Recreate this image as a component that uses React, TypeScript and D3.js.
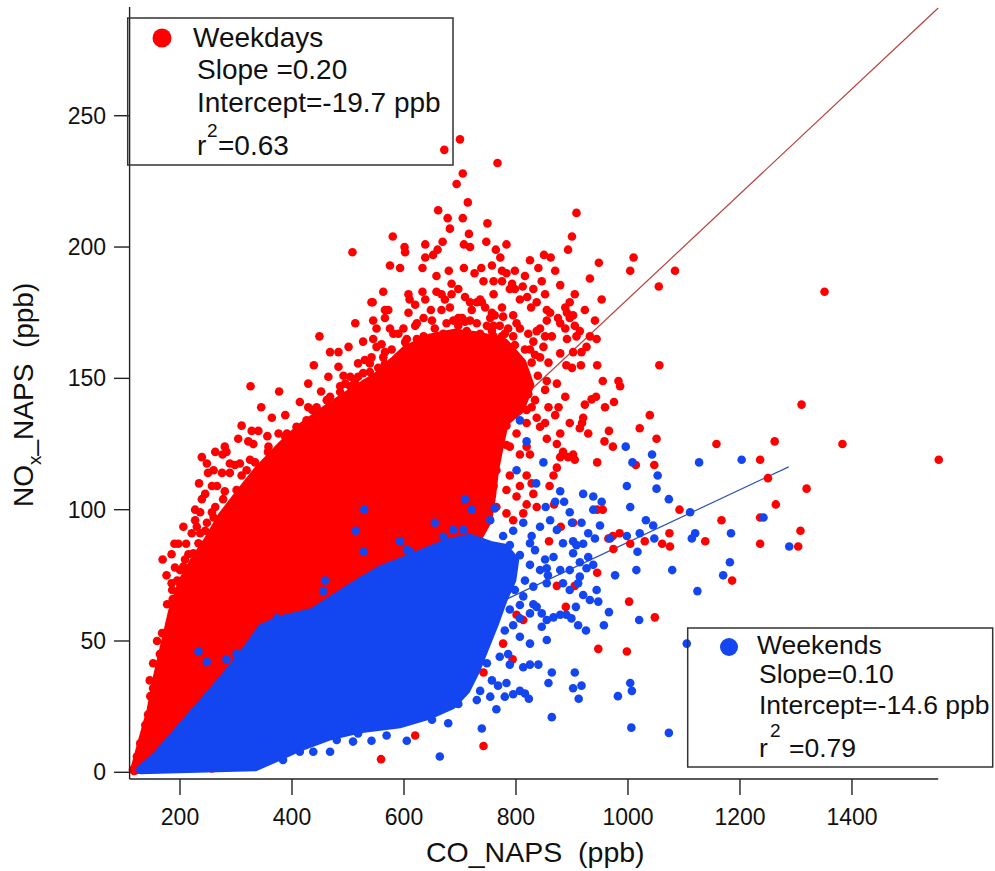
import React from 'react';
import * as d3 from 'd3';

const W = 995;
const H = 871;

const xTicks = [200, 400, 600, 800, 1000, 1200, 1400];
const yTicks = [0, 50, 100, 150, 200, 250];

// Weekday scattered points [CO ppb, NOx ppb]
const weekdayPoints: [number, number][] = [
  [700,241],[672,237],[767,232],[705,228],[694,224],[714,217],[908,213],[661,214],[678,211],[705,211],[749,209],[682,207],[580,204],[716,205],[900,204],[601,200],[602,198],[638,201],[669,202],[660,199],[652,197],[707,201],[718,200],[747,202],[783,201],[764,199],[893,199],[508,198],[638,196],[772,196],[850,197],[862,196],[948,194],[575,193],[593,192],[633,192],[707,192],[726,190],[738,192],[757,193],[775,191],[783,190],[798,191],[840,192],[658,189],[680,191],[932,188],[742,187],[760,187],[812,185],[846,187],[775,187],[685,186],[697,184],[793,186],[789,184],[831,184],[563,183],[544,179],[608,182],[610,180],[633,183],[658,183],[673,180],[736,180],[760,182],[953,180],[820,181],[837,179],[896,179],[888,177],[648,176],[682,177],[718,179],[730,179],[775,177],[795,174],[827,177],[855,176],[861,175],[875,173],[891,175],[902,174],[566,176],[566,173],[513,171],[545,172],[551,169],[449,166],[468,160],[483,160],[501,162],[527,164],[545,165],[581,167],[599,169],[623,171],[635,173],[905,170],[908,166],[932,166],[917,160],[855,172],[807,169],[822,167],[843,169],[879,171],[888,169],
  [575,169],[605,165],[623,165],[635,166],[646,161],[658,166],[670,167],[676,171],[688,172],[697,170],[688,166],[703,166],[712,168],[718,172],[730,171],[736,167],[748,170],[760,166],[771,170],[775,166],[783,162],[795,166],[831,164],[849,162],[864,166],[891,165],[902,160],
  [542,179],[572,176],[608,175],[620,170],[650,172],[667,176],[697,173],[721,176],[739,179],[757,175],[780,167],[757,168],[709,167],[667,165],[643,162],[626,161],[590,167],[578,161],[560,163],[542,158],[554,154],[578,156],[596,152],[530,148],[518,144],[518,155.7],[483,154.4],[465,150.6],[518,150.6],[530,157],
  [326,147],[377,145],[345,139],[310,132],[239,120],[250,114],[234,110],[245,106],[227,100],[236,99],[190,87],[211,87],[169,81],[185,83],[176,75],[209,81],[439,155],[429,148],[452,145],[276,121],[283,122],[298,117],[304,127],[328,130],[340,130],[322,126],[331,125],[364,135],[388,136],[414,141],[429,139],[492,151],[495,148],[501,143],[492,142],[358,124],[376,129],
  [263,122],[280,124],[310,113],[275,114],[257,109],[280,107],[239,104],[263,101],[227,96],[245,92],[221,91],[197,87],[215,83],[191,78],[221,77],[185,72],[206,69],
  [138,18],[143,22],[147,29],[152,32],[164,45],[173,45],[159,50],[168,53],[177,64],[187,66],[195,73],[116,1],[123,3],
  [527,152],[539,155.7],[563,158],[551,162],[444,139],[468,143],[486,147],[504,150.6],[504,147],[468,139],[356,128],[391,129],[408,131.6],[426,134],[444,133],[462,134],[289,117.6],[307,117.6],[325,119],[248,117.6],[260,115],[289,114],[319,115],[266,109],[277,104],[301,107.5],[313,105],[248,95],[260,97],[271,92],[254,90],[224,83.4],[242,85],[200,72],[212,67],[182,56.7],[152,41.5],[146,35],[129,11],[123,6],[206,93.5],[230,93.5],[233,87.2],[206,78.3],
  [704,173],[745,177],[754,173],[638,180],[620,178],[807,180],[798,184],[816,189],[825,195],[870,191],[879,185.5],[905,182],[852,182],[923,176],[941,172],
  [566,160],[602,163.8],[655,169],[709,171.6],[798,162.7],[816,161],[834,159],[839,151],[852,145.6],[834,141.7],
  [186,69.4],[200,77],[236,91],[257,99],[334,118],[357,122],[388,127.7],[436,138],[462,141.7],[486,144.8],[512,148.6],[539,152.4],[566,155.5],
  [559,5],[620,14],[742,10],[742,38],[794,43],[777,49],[889,63],[947,47],[813,58],[801,60],[739,47],[694,41],[367,8],[257,1.5],[569,24],[1002,65],[1048,59],[998,46],
  [1084,191],[1055,185],[1351,183],[1056,155],[1310,140],[1039,136],[1021,131],[1051,127],[1158,125],[1262,126],[1383,125],[1555,119],[1236,119],[1047,117],[1250,112],[1319,108],[1264,102],[1092,100],[1167,96],[1236,97],[1308,92],[1074,91],[1030,88],[1061,87],[1075,86],[1138,88],[1236,87],[1304,86],
  [1010,196],[1004,191],[916,155],[900,154],[945,155],[955,149],[983,149],[986,147],[923,140],[935,142],[943,143],[959,139],[975,141],[918,133],[896,133],[929,129],[966,130],[958,126],[973,124],[945,118],[1014,117],[1186,73],[973,90],[985,91],[1004,87],[974,85],[945,76],[873,71],[905,71],[945,100],[955,100],[868,102],[860,109],[831,106],[828,110],[873,116],[867,113],[893,120],[884,122],[902,121],[905,119],[879,120],[879,129],[855,127],[873,125],
  [914,131],[902,95],[880,93.5],[965,89],[859,88],
  [765,132],[783,132],[801,129],[819,124],[825,121],[807,121],[789,124],[771,126.5],[754,120],[736,118],[765,115],[789,113],[807,109],[819,113],[819,102],[801,105],[783,107.5],[760,109],[742,111],[724,109],[736,102],[765,101],[748,96],[724,100],[712,105],[783,98.6],[813,98.6],[795,96],[837,101],
  [667,182],[685,182],[709,181],[896,173],[852,166],[914,168],[879,159.5],[858,156],[890,155],[825,161],[843,158],[828,156],[855,149],[873,148],[888,143],[876,139],[858,139],[852,133],[870,136],[822,144],[828,139],[837,135],[843,131.6],[920,135],[783,124.6],[819,133],[819,138],[801,171],[786,169],[760,170],[762,174],[777,173.5],[837,168],[926,162],[944,165],
];

// Weekend scattered points [CO ppb, NOx ppb]
const weekendPoints: [number, number][] = [
  [1043,121],[1127,118],[1203,119],[1053,113],[1051,108],[1073,104],[1111,99],[1032,96],[1045,94],[1242,97],[1120,91],[1114,89],[1047,89],[1184,91],[1288,86],[1182,80],[1079,77],[890,60],[899,58.6],[911,56],[925,54],[907,63],[932,65.6],[947,65],[966,61],[957,56],[1020,58],[1105,49],[905,38],[902,32],[917,33],[912,28],[982,29],[1004,34],[1007,31],[1006,17],[1073,15],
  [996,124],[1008,118],[998,109],[920,106],[938,105],[953,103],[886,103],[870,103],[853,101],[879,107],[836,110],[1004,101],[1021,91],[998,90],[1017,84],[1015,77],[977,75],[1170,75],[1124,69],[929,91],[941,89],[920,87],[950,94],[917,95],[900,95],[896,99],[938,100],[968,89],[938,79],[914,74.5],[911,72],[944,69.4],[896,77],[884,72],[896,69.4],[920,67.5],[867,82],[855,77.7],[908,86.5],[902,83.4],[914,80],[926,77.7],[837,63],[867,59],
  [902,88],[929,82],[879,60],[855,58],[846,55.4],[831,64],[789,86.5],[807,82.7],[825,79],[816,73],[798,69.4],[843,77],[834,84.6],[789,77],[852,81],[857,75],[849,118],[801,115],[819,126],[861,96],[843,93.5],[828,90],[813,95],[795,92],[777,90],[762,100.5],[754,96],[709,104],[655,95],[593,88],[611,84],
  [664,6],[739,16.7],[864,21],[765,24],[679,18.7],[605,12],[542,12],[569,14],[825,41],[840,41],[864,38],[858,34],[816,30],[823,28],[795,29.7],[780,28.8],[754,28.8],[730,27.5],[697,26],[768,33],[757,35],[736,31],[748,41.5],[771,44],[786,45],[789,41],[807,51.6],[795,56],[807,58.6],[846,60.5],[807,63.7],[825,60.5],[789,62],[780,54],
  [468,7.8],[518,14.8],[509,11.7],[343,3.4],[307,2.1],[384,4.7],[414,7.8],[438,7.8],[480,12.3],[650,20],[233,46],[248,42],[283,43],[301,45],[322,47],[529,100],[514,92],[528,84],[721,100],[807,134],[459,73],[456,69],[524,73],[548,70.7],[572,77],[596,74.5],[373,58.6],
  [605,84.6],[623,80.8],[670,89.7],[688,92.3],[706,92.3],[873,92.3],[884,87.2],[742,87.2],[771,83.4],[825,87.2],[879,77],[777,68],[813,67],[831,70.7],[855,72],[825,49],[855,50.4],[813,40],[783,34],[807,31],
];

// Outline of the saturated (fully overplotted) weekday cloud [CO, NOx]
const weekdayCore: [number, number][] = [
  [118,0.5],[132,11.5],[148,23.7],[159,36],[173,49],[186,61],[204,72.5],[225,80.5],[250,88.4],[275,97.6],[304,105.6],[339,115],[379,124],[414,131],[459,138],[504,144.4],[557,151.6],[602,160.8],[646,165.4],[691,167.3],[736,166.1],[780,163.5],[811,156],[825,147.5],[807,138],[780,133.4],[771,124.6],[762,115],[757,105.6],[750,96],[732,89.2],[700,86.5],[664,84.6],[593,77.8],[521,65.6],[414,50.4],[307,31.3],[218,16.1],[146,2.8],
];

// Outline of the saturated weekend cloud [CO, NOx]
const weekendCore: [number, number][] = [
  [129,0.9],[334,2],[379,6.2],[414,9.6],[468,13.8],[521,16.5],[593,18.4],[646,21.8],[686,25.6],[711,31.3],[729,39],[743,46.6],[761,56.1],[777,65.6],[793,73.2],[798,80.8],[780,85.4],[754,86.5],[718,89.2],[677,87.3],[616,82],[557,77],[498,69.4],[437,61],[379,58],[346,54.9],[325,48.5],[293,39.7],[257,30.6],[221,21.8],[186,13.1],[155,5.8],
];

const weekdayFit: [number, number][] = [[118, 3.9], [1554, 291]];
const weekendFit: [number, number][] = [[140, 1.6], [1287, 116.3]];

const weekdayLegend = ['Weekdays', 'Slope =0.20', 'Intercept=-19.7 ppb', '=0.63'];
const weekendLegend = ['Weekends', 'Slope=0.10', 'Intercept=-14.6 ppb', '=0.79'];

const RED = '#ff0000';
const BLUE = '#1346f0';
const R = 4.3;
const FONT = "'Liberation Sans', Arial, Helvetica, sans-serif";

export default function App() {
  const x = d3.scaleLinear().domain([110, 1554]).range([129.6, 938.2]);
  const y = d3.scaleLinear().domain([-2.55, 291.4]).range([779, 7]);
  const line = d3.line<[number, number]>().x(d => x(d[0])).y(d => y(d[1]));
  const closed = d3.line<[number, number]>().x(d => x(d[0])).y(d => y(d[1])).curve(d3.curveLinearClosed);

  return (
    <svg width={W} height={H} style={{ position: 'absolute', left: 0, top: 0, background: '#fff' }} fontFamily={FONT}>
      <rect x={0} y={0} width={W} height={H} fill="#fff" />
      <path d={line(weekdayFit) || ''} stroke="#b8403c" strokeWidth={1.2} fill="none" />
      <path d={line(weekendFit) || ''} stroke="#2d50b8" strokeWidth={1.2} fill="none" />
      <path d={closed(weekdayCore) || ''} fill={RED} stroke={RED} strokeWidth={2 * R} strokeLinejoin="round" />
      {weekdayPoints.map((p, i) => (
        <circle key={'r' + i} cx={x(p[0])} cy={y(p[1])} r={R} fill={RED} />
      ))}
      <path d={closed(weekendCore) || ''} fill={BLUE} stroke={BLUE} strokeWidth={2 * R} strokeLinejoin="round" />
      {weekendPoints.map((p, i) => (
        <circle key={'b' + i} cx={x(p[0])} cy={y(p[1])} r={R} fill={BLUE} />
      ))}
      <line x1={129.6} x2={129.6} y1={7} y2={779} stroke="#222" strokeWidth={1.4} />
      <line x1={129.6} x2={938.2} y1={779} y2={779} stroke="#222" strokeWidth={1.4} />
      {yTicks.map(t => (
        <g key={'yt' + t}>
          <line x1={114} x2={129.6} y1={y(t)} y2={y(t)} stroke="#222" strokeWidth={1.4} />
          <text x={106} y={y(t) + 8} textAnchor="end" fontSize={23} fill="#111">{t}</text>
        </g>
      ))}
      {xTicks.map(t => (
        <g key={'xt' + t}>
          <line x1={x(t)} x2={x(t)} y1={779} y2={795} stroke="#222" strokeWidth={1.4} />
          <text x={x(t)} y={825} textAnchor="middle" fontSize={23} fill="#111">{t}</text>
        </g>
      ))}
      <text x={426} y={862} fontSize={28.5} fill="#111" style={{ whiteSpace: 'pre' }}>CO_NAPS  (ppb)</text>
      <text transform="translate(33,507) rotate(-90)" fontSize={28} fill="#111" style={{ whiteSpace: 'pre' }}>
        NO<tspan fontSize={19} dy={8}>x</tspan><tspan dy={-8}>_NAPS  (ppb)</tspan>
      </text>
      <rect x={127.7} y={18} width={325.3} height={147} fill="none" stroke="#333" strokeWidth={1.5} />
      <circle cx={162} cy={38} r={9.5} fill={RED} />
      <text x={193} y={47} fontSize={28} fill="#111">{weekdayLegend[0]}</text>
      <text x={197} y={79} fontSize={28} fill="#111">{weekdayLegend[1]}</text>
      <text x={197} y={112} fontSize={28} fill="#111">{weekdayLegend[2]}</text>
      <text x={197} y={155} fontSize={28} fill="#111">r</text>
      <text x={207} y={137} fontSize={19} fill="#111">2</text>
      <text x={218} y={155} fontSize={28} fill="#111">{weekdayLegend[3]}</text>
      <rect x={687.7} y={628} width={305} height={139} fill="none" stroke="#333" strokeWidth={1.5} />
      <circle cx={729} cy={647} r={9} fill={BLUE} />
      <text x={757} y={654} fontSize={26.5} fill="#111">{weekendLegend[0]}</text>
      <text x={759} y={683} fontSize={26.5} fill="#111">{weekendLegend[1]}</text>
      <text x={759} y={714} fontSize={26.5} fill="#111">{weekendLegend[2]}</text>
      <text x={759} y={757} fontSize={26.5} fill="#111">r</text>
      <text x={770} y={737} fontSize={19} fill="#111">2</text>
      <text x={789} y={757} fontSize={26.5} fill="#111">{weekendLegend[3]}</text>
    </svg>
  );
}
